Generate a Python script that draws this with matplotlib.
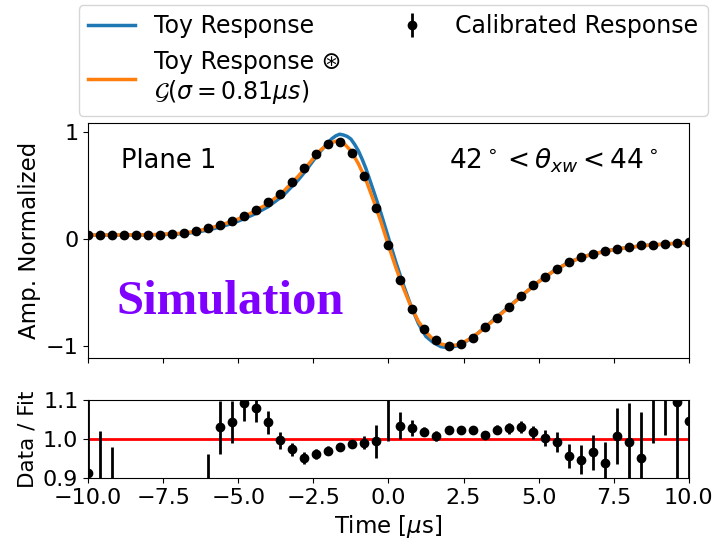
import numpy as np
import matplotlib
matplotlib.use('Agg')
import matplotlib.pyplot as plt

# calibrated response points (0.4 us steps)
t_data = [-10.0, -9.6, -9.2, -8.8, -8.4, -8.0, -7.6, -7.2, -6.8, -6.4,
          -6.0, -5.6, -5.2, -4.8, -4.4, -4.0, -3.6, -3.2, -2.8, -2.4,
          -2.0, -1.6, -1.2, -0.8, -0.4, 0.0, 0.4, 0.8, 1.2, 1.6,
          2.0, 2.4, 2.8, 3.2, 3.6, 4.0, 4.4, 4.8, 5.2, 5.6,
          6.0, 6.4, 6.8, 7.2, 7.6, 8.0, 8.4, 8.8, 9.2, 9.6, 10.0]
calib = [0.037, 0.037, 0.037, 0.037, 0.037, 0.034, 0.037, 0.047, 0.059, 0.072,
         0.100, 0.130, 0.165, 0.210, 0.270, 0.340, 0.420, 0.530, 0.660, 0.790,
         0.885, 0.900, 0.797, 0.583, 0.286, -0.062, -0.386, -0.651, -0.844, -0.946,
         -1.002, -0.983, -0.921, -0.821, -0.735, -0.633, -0.533, -0.431, -0.353, -0.282,
         -0.217, -0.167, -0.142, -0.114, -0.096, -0.077, -0.062, -0.059, -0.049, -0.040, -0.031]

# data / fit ratio
ratio = [0.914, 0.80, 0.75, np.nan, np.nan, np.nan, np.nan, np.nan, np.nan, np.nan,
         0.80, 1.030, 1.043, 1.092, 1.079, 1.043, 0.997, 0.974, 0.951, 0.961,
         0.970, 0.980, 0.987, 0.991, 0.994, 1.20, 1.034, 1.028, 1.019, 1.008,
         1.023, 1.023, 1.023, 1.010, 1.024, 1.027, 1.030, 1.017, 1.002, 0.993,
         0.956, 0.947, 0.966, 0.938, 1.007, 0.993, 0.951, 1.15, 1.20, 1.094, 1.047]
ratio_err = [0.20, 0.22, 0.23, np.nan, np.nan, np.nan, np.nan, np.nan, np.nan, np.nan,
             0.162, 0.068, 0.053, 0.046, 0.036, 0.029, 0.022, 0.017, 0.015, 0.013,
             0.012, 0.011, 0.011, 0.017, 0.042, 0.205, 0.034, 0.020, 0.012, 0.012,
             0.010, 0.010, 0.010, 0.010, 0.012, 0.013, 0.015, 0.017, 0.020, 0.025,
             0.030, 0.037, 0.045, 0.055, 0.072, 0.100, 0.117, 0.16, 0.19, 0.20, 0.20]

# toy response (blue)
t_toy = [-10, -9, -8, -7, -6.5, -6, -5.5, -5, -4.5, -4, -3.5, -3, -2.75, -2.5,
         -2.25, -2, -1.875, -1.75, -1.625, -1.5, -1.375, -1.25, -1.125, -1, -0.875,
         -0.75, -0.5, -0.25, 0, 0.25, 0.5, 0.75, 1, 1.25, 1.5, 1.75, 2, 2.25, 2.5,
         2.75, 3, 3.5, 4, 4.5, 5, 5.5, 6, 6.5, 7, 7.5, 8, 8.5, 9, 9.5, 10]
toy = [0.035, 0.036, 0.036, 0.045, 0.058, 0.082, 0.118, 0.165, 0.225, 0.300,
       0.405, 0.550, 0.635, 0.730, 0.820, 0.900, 0.935, 0.960, 0.975, 0.968,
       0.955, 0.930, 0.880, 0.820, 0.742, 0.655, 0.450, 0.240, 0.010, -0.220,
       -0.430, -0.625, -0.790, -0.910, -0.968, -1.005, -1.015, -1.000, -0.970, -0.928,
       -0.875, -0.755, -0.635, -0.515, -0.400, -0.300, -0.220, -0.165, -0.130, -0.100,
       -0.080, -0.063, -0.053, -0.043, -0.035]

# toy response convolved with gaussian (orange)
t_conv = [-10, -9, -8, -7, -6.5, -6, -5.5, -5, -4.5, -4, -3.5, -3, -2.75, -2.5,
          -2.25, -2, -1.75, -1.625, -1.5, -1.25, -1, -0.75, -0.5, -0.25, 0, 0.25,
          0.5, 0.75, 1, 1.25, 1.5, 1.75, 2, 2.25, 2.5, 2.75, 3, 3.5, 4, 4.5,
          5, 5.5, 6, 6.5, 7, 7.5, 8, 8.5, 9, 9.5, 10]
toy_conv = [0.035, 0.037, 0.037, 0.050, 0.066, 0.095, 0.135, 0.185, 0.250, 0.330,
            0.440, 0.585, 0.665, 0.750, 0.830, 0.885, 0.910, 0.912, 0.895, 0.820,
            0.700, 0.550, 0.360, 0.160, -0.060, -0.270, -0.460, -0.630, -0.770, -0.870,
            -0.940, -0.980, -0.995, -0.990, -0.965, -0.925, -0.875, -0.760, -0.640, -0.515,
            -0.400, -0.300, -0.220, -0.165, -0.130, -0.100, -0.080, -0.063, -0.053, -0.043, -0.035]

fig = plt.figure(figsize=(7.16, 5.44), dpi=100)
ax1 = fig.add_axes([0.123, 0.342, 0.839, 0.432])
ax2 = fig.add_axes([0.123, 0.121, 0.839, 0.144], sharex=ax1)

l_toy, = ax1.plot(t_toy, toy, color='#1f77b4', lw=2.5)
l_conv, = ax1.plot(t_conv, toy_conv, color='#ff7f0e', lw=2.5)
ax1.plot(t_data, calib, 'o', color='k', ms=6, zorder=3)
ax1.set_xlim(-10, 10)
ax1.set_ylim(-1.11, 1.08)
ax1.set_yticks([-1, 0, 1])
ax1.tick_params(labelsize=16, labelbottom=False)
ax1.set_ylabel('Amp. Normalized', fontsize=16.5, labelpad=3)
ax1.text(0.055, 0.84, 'Plane 1', transform=ax1.transAxes, fontsize=18.5, va='center')
ax1.text(0.6, 0.84, r'$42^\circ < \theta_{xw} < 44^\circ$', transform=ax1.transAxes,
         fontsize=19, va='center')
ax1.text(0.048, 0.24, 'Simulation', transform=ax1.transAxes, fontsize=35,
         family='Liberation Serif', fontweight='bold', color='#7f00ff', va='center')

ax2.axhline(1.0, color='red', lw=2, zorder=2)
eb = ax2.errorbar(t_data, ratio, yerr=ratio_err, fmt='o', color='k', ms=6,
                  elinewidth=2, zorder=3)
ax2.set_ylim(0.9, 1.1)
ax2.set_yticks([0.9, 1.0, 1.1])
ax2.set_yticklabels(['0.9', '1.0', '1.1'])
ax2.set_xticks(np.arange(-10, 10.1, 2.5))
ax2.tick_params(labelsize=16)
ax2.set_xlabel(r'Time [$\mu$s]', fontsize=16.5)
ax2.set_ylabel('Data / Fit', fontsize=15.5, labelpad=4)

fig.legend(handles=[l_toy, l_conv, eb],
           labels=['Toy Response', 'Toy Response \u229b\n' + r'$\mathcal{G}(\sigma = 0.81\mu s)$',
                   'Calibrated Response'],
           ncol=2, loc='upper center', bbox_to_anchor=(0.549, 0.991),
           borderaxespad=0, fontsize=17)

fig.savefig('out.png', dpi=100)
